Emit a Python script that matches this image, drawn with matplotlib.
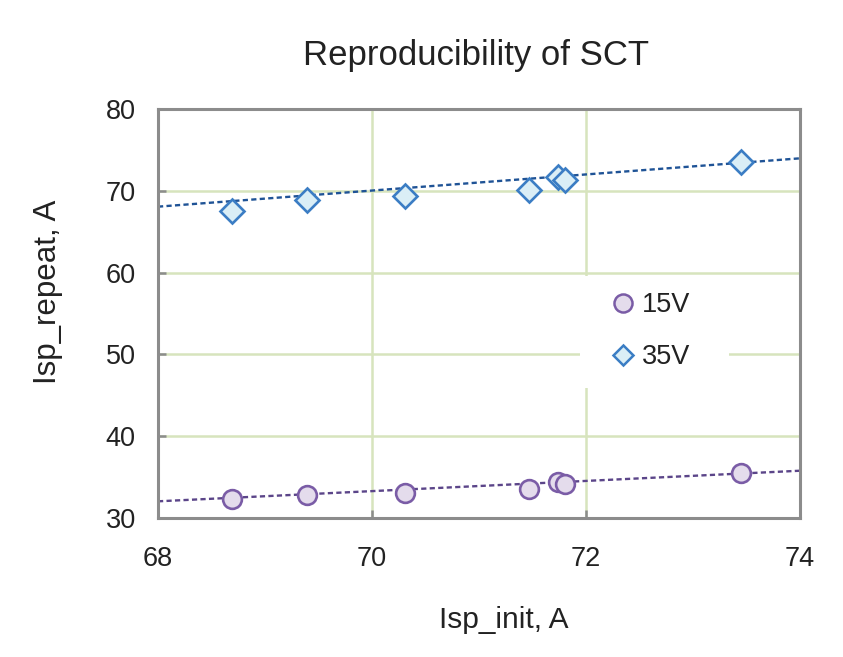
import numpy as np
import matplotlib
matplotlib.use("Agg")
import matplotlib.pyplot as plt
from matplotlib.lines import Line2D
from matplotlib.patches import Rectangle

plt.rcParams['font.family'] = ['Liberation Sans', 'DejaVu Sans']

# Data
x_init = [68.69, 69.39, 70.31, 71.47, 71.74, 71.80, 73.45]
rep_15v = [32.29, 32.81, 33.02, 33.55, 34.36, 34.16, 35.46]
rep_35v = [67.57, 68.88, 69.40, 70.10, 71.65, 71.32, 73.52]
series_names = ["15V", "35V"]
# Trendlines as drawn in the chart (values at the x-range ends)
trend_x = [68, 74]
trend_15v = [32.04, 35.78]
trend_35v = [68.06, 73.97]
x_ticks = [68, 70, 72, 74]
y_ticks = [30, 40, 50, 60, 70, 80]

W, H = 843, 657
fig = plt.figure(figsize=(W / 100, H / 100), dpi=100)
L, R, T, B = 158, 800, 109, 518
ax = fig.add_axes([L / W, 1 - B / H, (R - L) / W, (B - T) / H])

grid_c = '#D7E4BD'
spine_c = '#8C8C8C'
text_c = '#222222'

ax.set_xlim(68, 74)
ax.set_ylim(30, 80)
ax.set_xticks(x_ticks)
ax.set_yticks(y_ticks)
for v in [70, 72]:
    ax.axvline(v, color=grid_c, lw=1.8, zorder=0)
for v in [40, 50, 60, 70]:
    ax.axhline(v, color=grid_c, lw=1.8, zorder=0)

for s in ax.spines.values():
    s.set_color(spine_c)
    s.set_linewidth(2.2)
ax.tick_params(direction='in', length=6, width=1.8, color=spine_c,
               labelsize=19.5, labelcolor=text_c)
ax.tick_params(axis='y', pad=16)
ax.tick_params(axis='x', pad=20)

# legend background box (white, hides the grid)
ax.add_patch(Rectangle(((580 - L) / (R - L), (B - 388) / (B - T)),
                       (729 - 580) / (R - L), (388 - 276) / (B - T),
                       transform=ax.transAxes, facecolor='white', edgecolor='none', zorder=1))

ax.plot(trend_x, trend_15v, ls=(0, (2.2, 1.4)), color='#5B4589', lw=1.7, zorder=2)
ax.plot(trend_x, trend_35v, ls=(0, (2.2, 1.4)), color='#1F5396', lw=1.7, zorder=2)

ax.plot(x_init, rep_15v, 'o', ms=13.5, mfc='#E4DCEC', mec='#7A5CA6', mew=1.9, ls='none', zorder=3)
ax.plot(x_init, rep_35v, 'D', ms=12.3, mfc='#DAEEF6', mec='#3B7DC4', mew=1.9, ls='none', zorder=3)

handles = [
    Line2D([], [], marker='o', ms=13, mfc='#E4DCEC', mec='#7A5CA6', mew=1.8, ls='none'),
    Line2D([], [], marker='D', ms=10.5, mfc='#DAEEF6', mec='#3B7DC4', mew=1.8, ls='none'),
]
leg = ax.legend(handles, series_names, loc='upper left',
                bbox_to_anchor=((612 - L) / (R - L), (B - 292) / (B - T)),
                frameon=False, fontsize=19.5, handlelength=0.8, handletextpad=0.3,
                labelspacing=0.97, borderpad=0.0, borderaxespad=0.0, labelcolor=text_c)
leg.set_zorder(4)

fig.text(476 / W, 1 - 55 / H, "Reproducibility of SCT", ha='center', va='center',
         fontsize=25, color=text_c)
fig.text(504 / W, 1 - 620 / H, "Isp_init, A", ha='center', va='center',
         fontsize=21.5, color=text_c)
fig.text(48 / W, 1 - 292 / H, "Isp_repeat, A", ha='center', va='center',
         rotation=90, fontsize=22.5, color=text_c)

fig.savefig("out.png", dpi=100)
